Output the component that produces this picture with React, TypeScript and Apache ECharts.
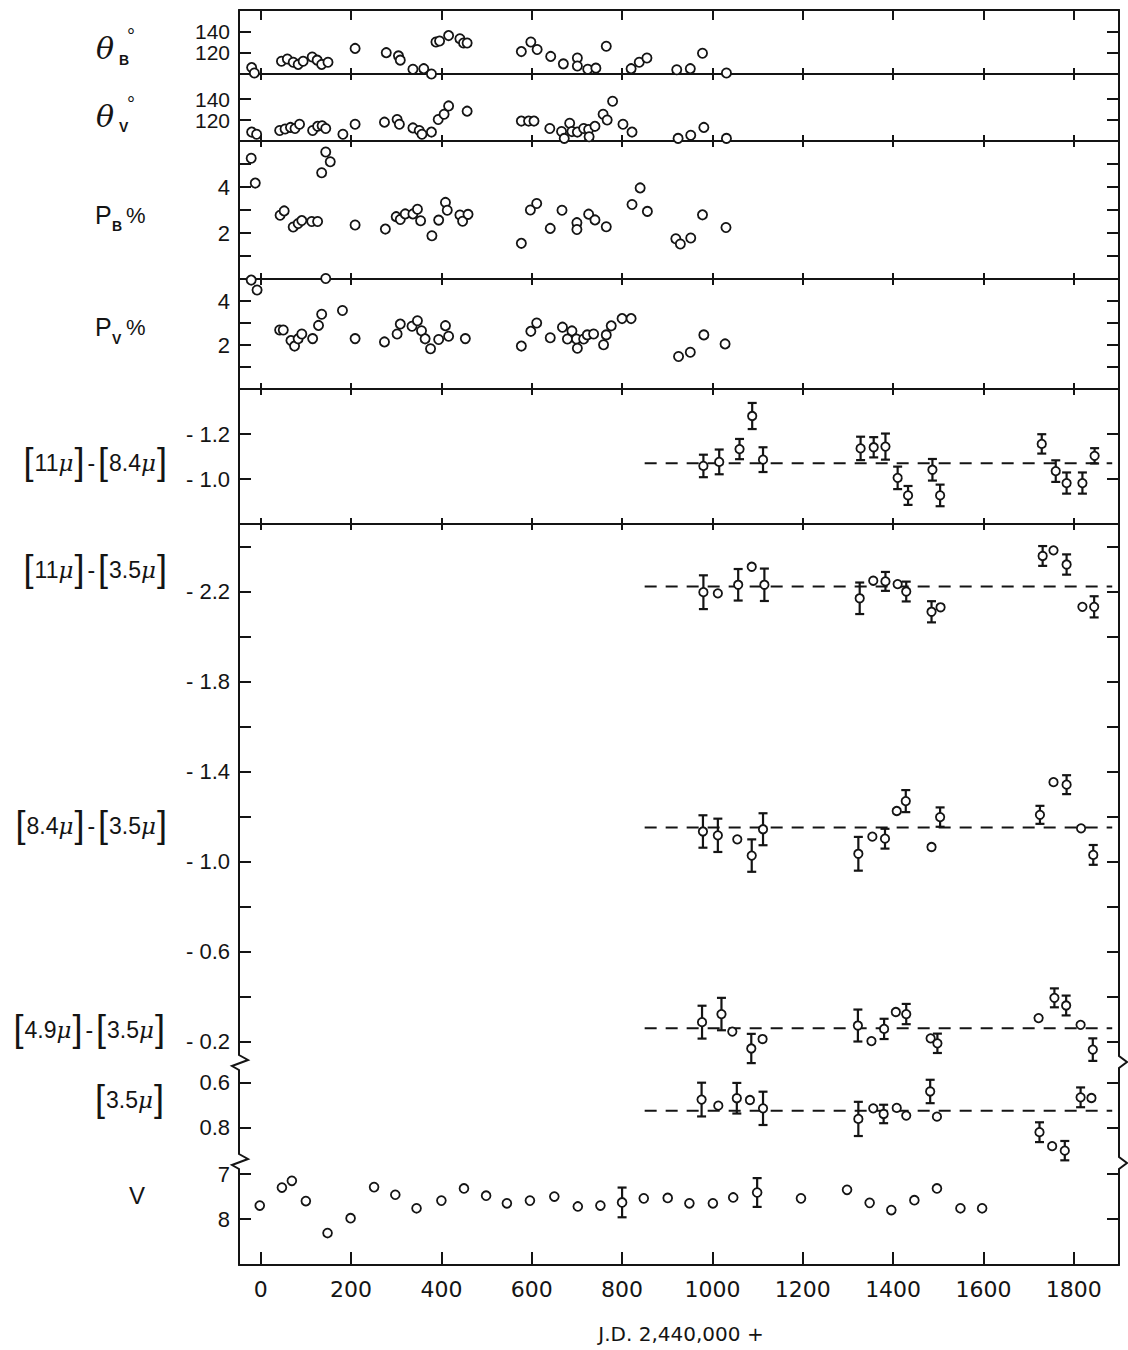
import React, { useEffect, useRef } from "react";
import * as echarts from "echarts";

// ---------------- data ----------------
const xTicks = [0, 200, 400, 600, 800, 1000, 1200, 1400, 1600, 1800];

const thetaB_jd = [-20, -14, 46, 59, 72, 83, 94, 114, 125, 135, 149, 209, 278, 305, 309, 337, 361, 378, 388, 396, 416, 441, 449, 457, 577, 598, 612, 642, 670, 701, 701, 724, 742, 765, 820, 838, 855, 921, 951, 978, 1031];
const thetaB_deg = [106, 101, 112, 114, 111, 109, 112, 116, 113, 109, 111, 124, 120, 117, 113, 104.5, 105, 100, 130, 131, 136, 133, 129, 129, 121, 130, 123, 116.5, 109.5, 115, 107.5, 104.5, 105.5, 126, 105, 111, 115, 104, 105, 119.5, 101];

const thetaV_jd = [-20, -9, 42, 54, 66, 76, 86, 115, 126, 136, 144, 182, 209, 274, 302, 307, 337, 351, 357, 378, 393, 406, 416, 457, 577, 593, 605, 640, 666, 672, 684, 689, 701, 715, 726, 727, 740, 758, 767, 779, 802, 822, 924, 952, 981, 1031];
const thetaV_deg = [108.5, 106.5, 110, 111.5, 113, 112, 116, 110, 114, 114.5, 112, 106.5, 116, 118, 120.5, 116, 112.5, 110, 106.5, 108.5, 120.5, 125.5, 133.5, 128.5, 119, 119, 119, 112, 109, 102.5, 117, 109, 108.5, 112, 111, 104, 114, 125.5, 120, 138, 116, 108.5, 102.5, 105.5, 113, 102.5];

const pB_jd = [-21, -12, 43, 52, 72, 83, 91, 113, 126, 135, 144, 154, 209, 276, 300, 309, 320, 337, 347, 354, 379, 394, 409, 413, 441, 447, 459, 577, 597, 611, 641, 667, 700, 700, 726, 740, 765, 822, 840, 856, 919, 929, 952, 978, 1030];
const pB_pct = [5.25, 4.17, 2.77, 2.96, 2.26, 2.41, 2.54, 2.5, 2.5, 4.62, 5.52, 5.1, 2.35, 2.17, 2.71, 2.59, 2.83, 2.83, 3.03, 2.53, 1.88, 2.56, 3.33, 2.99, 2.78, 2.51, 2.81, 1.55, 3.0, 3.28, 2.2, 2.99, 2.45, 2.15, 2.82, 2.57, 2.27, 3.24, 3.96, 2.94, 1.75, 1.52, 1.78, 2.79, 2.24];

const pV_jd = [-21, -8, 42, 50, 67, 75, 83, 91, 115, 128, 135, 144, 181, 209, 274, 302, 309, 335, 347, 356, 364, 376, 394, 409, 416, 453, 577, 598, 611, 641, 668, 679, 689, 699, 701, 715, 723, 737, 759, 765, 776, 800, 820, 925, 951, 981, 1028];
const pV_pct = [4.95, 4.5, 2.68, 2.68, 2.2, 1.95, 2.28, 2.5, 2.29, 2.89, 3.4, 5.02, 3.57, 2.29, 2.14, 2.5, 2.95, 2.85, 3.1, 2.65, 2.28, 1.83, 2.25, 2.88, 2.4, 2.29, 1.95, 2.62, 3.0, 2.33, 2.81, 2.27, 2.64, 2.27, 1.85, 2.27, 2.46, 2.5, 2.01, 2.46, 2.87, 3.2, 3.2, 1.48, 1.67, 2.46, 2.05];

const c11_84_jd = [980, 1015, 1060, 1088, 1112, 1328, 1357, 1383, 1410, 1433, 1487, 1504, 1729, 1760, 1784, 1819, 1846];
const c11_84_val = [-1.058, -1.076, -1.133, -1.28, -1.086, -1.136, -1.141, -1.144, -1.005, -0.927, -1.041, -0.927, -1.156, -1.035, -0.982, -0.982, -1.103];
const c11_84_err = [0.05, 0.055, 0.045, 0.058, 0.055, 0.052, 0.045, 0.058, 0.05, 0.042, 0.048, 0.048, 0.043, 0.048, 0.047, 0.047, 0.034];
const c11_84_mean = -1.07;

const c11_35_jd = [980, 1012, 1057, 1087, 1115, 1326, 1356, 1383, 1410, 1429, 1485, 1505, 1731, 1755, 1784, 1819, 1845];
const c11_35_val = [-2.197, -2.192, -2.23, -2.31, -2.23, -2.17, -2.248, -2.245, -2.233, -2.2, -2.11, -2.13, -2.358, -2.383, -2.32, -2.132, -2.132];
const c11_35_err = [0.075, 0, 0.07, 0, 0.072, 0.07, 0, 0.042, 0, 0.044, 0.047, 0, 0.044, 0, 0.045, 0, 0.047];
const c11_35_mean = -2.222;

const c84_35_jd = [979, 1012, 1055, 1087, 1112, 1323, 1354, 1382, 1408, 1428, 1485, 1504, 1725, 1755, 1784, 1816, 1843];
const c84_35_val = [-1.134, -1.117, -1.099, -1.027, -1.144, -1.035, -1.111, -1.102, -1.225, -1.269, -1.065, -1.198, -1.208, -1.353, -1.342, -1.148, -1.03];
const c84_35_err = [0.072, 0.074, 0, 0.072, 0.071, 0.075, 0, 0.044, 0, 0.049, 0, 0.043, 0.04, 0, 0.042, 0, 0.044];
const c84_35_mean = -1.152;

const c49_35_jd = [977, 1020, 1044, 1086, 1111, 1322, 1352, 1380, 1406, 1429, 1483, 1498, 1722, 1757, 1783, 1815, 1842];
const c49_35_val = [-0.287, -0.323, -0.245, -0.17, -0.212, -0.272, -0.203, -0.257, -0.332, -0.323, -0.215, -0.193, -0.305, -0.395, -0.361, -0.275, -0.165];
const c49_35_err = [0.073, 0.072, 0, 0.065, 0, 0.071, 0, 0.045, 0, 0.045, 0, 0.043, 0, 0.042, 0.044, 0, 0.05];
const c49_35_mean = -0.26;

const m35_jd = [976, 1013, 1054, 1083, 1112, 1323, 1356, 1379, 1408, 1429, 1482, 1497, 1724, 1752, 1780, 1815, 1839];
const m35_mag = [0.677, 0.704, 0.671, 0.679, 0.716, 0.763, 0.716, 0.741, 0.714, 0.748, 0.641, 0.753, 0.822, 0.884, 0.904, 0.667, 0.67];
const m35_err = [0.075, 0, 0.068, 0, 0.074, 0.076, 0, 0.041, 0, 0, 0.052, 0, 0.044, 0, 0.043, 0.044, 0];
const m35_mean = 0.727;

const v_jd = [-2, 47, 69, 100, 148, 199, 251, 298, 345, 400, 450, 499, 545, 596, 650, 702, 752, 800, 848, 901, 949, 1001, 1046, 1099, 1196, 1298, 1348, 1396, 1447, 1497, 1549, 1597];
const v_mag = [7.7, 7.3, 7.15, 7.6, 8.31, 7.98, 7.29, 7.46, 7.76, 7.59, 7.32, 7.48, 7.65, 7.59, 7.5, 7.72, 7.7, 7.63, 7.54, 7.53, 7.65, 7.65, 7.52, 7.41, 7.54, 7.35, 7.64, 7.8, 7.58, 7.32, 7.76, 7.76];
const v_err = [0, 0, 0, 0, 0, 0, 0, 0, 0, 0, 0, 0, 0, 0, 0, 0, 0, 0.33, 0, 0, 0, 0, 0, 0.32, 0, 0, 0, 0, 0, 0, 0, 0];

const dashFrom = 850;
const dashTo = 1885;

// tick values / labels per panel
const thetaTicks = [120, 140];
const pBTicks = [1, 2, 3, 4, 5];
const pVTicks = [1, 2, 3, 4];
const pLabels = [2, 4];
const c1184Ticks = [-1.2, -1.0];
const colorTicks = [-2.4, -2.2, -2.0, -1.8, -1.6, -1.4, -1.2, -1.0, -0.8, -0.6, -0.4, -0.2];
const colorLabels = [-2.2, -1.8, -1.4, -1.0, -0.6, -0.2];
const m35Ticks = [0.6, 0.8];
const vTicks = [7, 8];

// ---------------- layout ----------------
const INK = "#141414";
const NUMFONT = "Liberation Sans";
const XFONT = "DejaVu Sans";
const LEFT = 239;
const RIGHT = 9;
const XMIN = -48;
const XMAX = 1900;

const neg = (v: number) => "- " + Math.abs(v).toFixed(1);

type Panel = {
  top: number; height: number; min: number; max: number; inverse: boolean;
  ticks: number[]; labels: number[]; fmt: (v: number) => string;
  topLine: boolean; bottomLine: boolean; fs: number;
};

const panels: Panel[] = [
  { top: 10, height: 64, min: 100, max: 160, inverse: false, ticks: thetaTicks, labels: thetaTicks, fmt: (v) => String(v), topLine: true, bottomLine: true, fs: 21 },
  { top: 74, height: 67, min: 100, max: 164, inverse: false, ticks: thetaTicks, labels: thetaTicks, fmt: (v) => String(v), topLine: true, bottomLine: true, fs: 21 },
  { top: 141, height: 138, min: 0, max: 6, inverse: false, ticks: pBTicks, labels: pLabels, fmt: (v) => String(v), topLine: true, bottomLine: true, fs: 22 },
  { top: 279, height: 110, min: 0, max: 5, inverse: false, ticks: pVTicks, labels: pLabels, fmt: (v) => String(v), topLine: true, bottomLine: true, fs: 22 },
  { top: 389, height: 135, min: -1.4, max: -0.8, inverse: true, ticks: c1184Ticks, labels: c1184Ticks, fmt: neg, topLine: true, bottomLine: true, fs: 22 },
  { top: 524, height: 538, min: -2.5, max: -0.11, inverse: true, ticks: colorTicks, labels: colorLabels, fmt: neg, topLine: true, bottomLine: false, fs: 22 },
  { top: 1062, height: 99, min: 0.51, max: 0.95, inverse: true, ticks: m35Ticks, labels: m35Ticks, fmt: (v) => v.toFixed(1), topLine: false, bottomLine: false, fs: 22 },
  { top: 1161, height: 104, min: 6.71, max: 9.02, inverse: true, ticks: vTicks, labels: vTicks, fmt: (v) => String(v), topLine: false, bottomLine: true, fs: 22 },
];

function markSeries(xs: number[], ys: number[], errs: number[] | null, g: number, r: number) {
  return {
    type: "custom",
    xAxisIndex: g * 2,
    yAxisIndex: g * 2,
    data: xs.map((x, i) => [x, ys[i], errs ? errs[i] : 0]),
    encode: { x: 0, y: 1 },
    clip: false,
    silent: true,
    z: 5,
    renderItem: (_p: any, api: any) => {
      const x = api.value(0);
      const y = api.value(1);
      const e = api.value(2);
      const c = api.coord([x, y]);
      const children: any[] = [];
      if (e > 0) {
        const a = api.coord([x, y - e]);
        const b = api.coord([x, y + e]);
        const st = { stroke: INK, lineWidth: 2.2 };
        children.push({ type: "line", shape: { x1: c[0], y1: a[1], x2: c[0], y2: b[1] }, style: st });
        children.push({ type: "line", shape: { x1: c[0] - 4.5, y1: a[1], x2: c[0] + 4.5, y2: a[1] }, style: st });
        children.push({ type: "line", shape: { x1: c[0] - 4.5, y1: b[1], x2: c[0] + 4.5, y2: b[1] }, style: st });
      }
      children.push({ type: "circle", shape: { cx: c[0], cy: c[1], r }, style: { fill: "#fff", stroke: INK, lineWidth: 1.8 } });
      return { type: "group", children };
    },
  };
}

function dashSeries(v: number, g: number) {
  return {
    type: "line",
    xAxisIndex: g * 2,
    yAxisIndex: g * 2,
    data: [[dashFrom, v], [dashTo, v]],
    symbol: "none",
    silent: true,
    z: 3,
    lineStyle: { color: INK, width: 2, type: [12, 9] },
  };
}

function txt(x: number, y: number, text: string, size: number, extra: any = {}) {
  return {
    type: "text",
    x,
    y,
    z: 50,
    style: {
      text,
      fontSize: size,
      fontFamily: extra.family || NUMFONT,
      fontStyle: extra.italic ? "italic" : "normal",
      fontWeight: extra.bold ? "bold" : "normal",
      fill: INK,
      align: extra.align || "left",
      verticalAlign: "middle",
    },
  };
}

function bracketLabel(x: number, y: number, text: string) {
  return {
    type: "text",
    x,
    y,
    z: 50,
    style: {
      text,
      fill: INK,
      align: "right",
      verticalAlign: "middle",
      fontFamily: NUMFONT,
      fontSize: 23,
      rich: {
        b: { fontSize: 36, fontFamily: NUMFONT, fill: INK, verticalAlign: "middle", padding: [0, 1, 4, 1] },
        t: { fontSize: 23, fontFamily: NUMFONT, fill: INK, verticalAlign: "middle" },
        m: { fontSize: 23, fontFamily: "DejaVu Serif", fontStyle: "italic", fill: INK, verticalAlign: "middle" },
        d: { fontSize: 23, fontFamily: NUMFONT, fill: INK, verticalAlign: "middle", padding: [0, 2, 0, 2] },
      },
    },
  };
}

function leftBreak(y: number) {
  return [
    { type: "rect", z: 60, shape: { x: LEFT - 4, y: y - 10, width: 8, height: 20 }, style: { fill: "#fff" } },
    { type: "polyline", z: 61, shape: { points: [[LEFT, y - 11], [LEFT, y - 7], [LEFT + 9, y - 2], [LEFT - 7, y + 4], [LEFT, y + 8], [LEFT, y + 11]] }, style: { stroke: INK, lineWidth: 2, fill: "none" } },
  ];
}
function rightBreak(y: number) {
  const xr = 1128 - RIGHT;
  return [
    { type: "rect", z: 60, shape: { x: xr - 4, y: y - 10, width: 8, height: 20 }, style: { fill: "#fff" } },
    { type: "polyline", z: 61, shape: { points: [[xr, y - 11], [xr, y - 6], [xr + 8, y], [xr, y + 6], [xr, y + 11]] }, style: { stroke: INK, lineWidth: 2, fill: "none" } },
  ];
}

function buildOption() {
  const grid: any[] = [];
  const xAxis: any[] = [];
  const yAxis: any[] = [];
  panels.forEach((p, i) => {
    grid.push({ left: LEFT, right: RIGHT, top: p.top, height: p.height, containLabel: false });
    const isLast = i === panels.length - 1;
    const xBase = {
      gridIndex: i,
      type: "value",
      min: XMIN,
      max: XMAX,
      splitLine: { show: false },
    };
    xAxis.push({
      ...xBase,
      position: "bottom",
      axisLine: { show: p.bottomLine, onZero: false, lineStyle: { color: INK, width: 2 } },
      axisTick: { show: p.bottomLine, inside: true, length: isLast ? 13 : 6, customValues: xTicks, lineStyle: { color: INK, width: 2 } },
      axisLabel: {
        show: isLast,
        customValues: xTicks,
        margin: 13,
        color: INK,
        fontFamily: XFONT,
        fontSize: 22,
        hideOverlap: false,
        formatter: (v: number) => String(v),
      },
    });
    xAxis.push({
      ...xBase,
      position: "top",
      axisLine: { show: p.topLine, onZero: false, lineStyle: { color: INK, width: 2 } },
      axisTick: { show: p.topLine, inside: true, length: i === 0 ? 10 : 6, customValues: xTicks, lineStyle: { color: INK, width: 2 } },
      axisLabel: { show: false, customValues: xTicks },
    });
    const yBase = {
      gridIndex: i,
      type: "value",
      min: p.min,
      max: p.max,
      inverse: p.inverse,
      splitLine: { show: false },
      axisLine: { show: true, onZero: false, lineStyle: { color: INK, width: 2 } },
    };
    yAxis.push({
      ...yBase,
      position: "left",
      axisTick: { show: true, inside: true, length: 12, customValues: p.ticks, lineStyle: { color: INK, width: 2 } },
      axisLabel: {
        show: true,
        customValues: p.labels,
        margin: 9,
        color: INK,
        fontFamily: NUMFONT,
        fontSize: p.fs,
        lineHeight: 16,
        hideOverlap: false,
        formatter: (v: number) => p.fmt(v),
      },
    });
    yAxis.push({
      ...yBase,
      position: "right",
      axisTick: { show: true, inside: true, length: 12, customValues: p.ticks, lineStyle: { color: INK, width: 2 } },
      axisLabel: { show: false, customValues: p.labels },
    });
  });

  const series: any[] = [
    markSeries(thetaB_jd, thetaB_deg, null, 0, 4.6),
    markSeries(thetaV_jd, thetaV_deg, null, 1, 4.6),
    markSeries(pB_jd, pB_pct, null, 2, 4.6),
    markSeries(pV_jd, pV_pct, null, 3, 4.6),
    dashSeries(c11_84_mean, 4),
    markSeries(c11_84_jd, c11_84_val, c11_84_err, 4, 4.2),
    dashSeries(c11_35_mean, 5),
    dashSeries(c84_35_mean, 5),
    dashSeries(c49_35_mean, 5),
    markSeries(c11_35_jd, c11_35_val, c11_35_err, 5, 4.2),
    markSeries(c84_35_jd, c84_35_val, c84_35_err, 5, 4.2),
    markSeries(c49_35_jd, c49_35_val, c49_35_err, 5, 4.2),
    dashSeries(m35_mean, 6),
    markSeries(m35_jd, m35_mag, m35_err, 6, 4.2),
    markSeries(v_jd, v_mag, v_err, 7, 4.4),
  ];

  const graphic: any[] = [
    // theta B
    txt(96, 48, "θ", 30, { italic: true, family: "DejaVu Serif" }),
    txt(119, 60, "B", 14, { bold: true }),
    txt(127, 36, "°", 20),
    // theta V
    txt(96, 116, "θ", 30, { italic: true, family: "DejaVu Serif" }),
    txt(119, 127, "V", 14, { bold: true }),
    txt(127, 104, "°", 20),
    // P B
    txt(95, 215, "P", 25),
    txt(112, 226, "B", 14, { bold: true }),
    txt(126, 215, "%", 22),
    // P V
    txt(95, 327, "P", 25),
    txt(112, 339, "V", 14, { bold: true }),
    txt(126, 327, "%", 22),
    bracketLabel(168, 463, "{b|[}{t|11}{m|μ}{b|]}{d|-}{b|[}{t|8.4}{m|μ}{b|]}"),
    bracketLabel(168, 570, "{b|[}{t|11}{m|μ}{b|]}{d|-}{b|[}{t|3.5}{m|μ}{b|]}"),
    bracketLabel(168, 826, "{b|[}{t|8.4}{m|μ}{b|]}{d|-}{b|[}{t|3.5}{m|μ}{b|]}"),
    bracketLabel(166, 1030, "{b|[}{t|4.9}{m|μ}{b|]}{d|-}{b|[}{t|3.5}{m|μ}{b|]}"),
    bracketLabel(165, 1100, "{b|[}{t|3.5}{m|μ}{b|]}"),
    txt(137, 1195, "V", 24, { align: "center" }),
    txt(681, 1334, "J.D. 2,440,000 +", 20, { align: "center", family: XFONT }),
    ...leftBreak(1062),
    ...leftBreak(1161),
    ...rightBreak(1062),
    ...rightBreak(1163),
  ];

  return {
    animation: false,
    backgroundColor: "#ffffff",
    grid,
    xAxis,
    yAxis,
    series,
    graphic,
  };
}

export default function App() {
  const ref = useRef<HTMLDivElement>(null);
  useEffect(() => {
    if (!ref.current) return;
    const chart = echarts.init(ref.current, undefined, { renderer: "svg" });
    chart.setOption(buildOption() as any);
    return () => chart.dispose();
  }, []);
  return (
    <div
      ref={ref}
      style={{ position: "absolute", left: 0, top: 0, width: 1128, height: 1350, background: "#fff" }}
    />
  );
}
